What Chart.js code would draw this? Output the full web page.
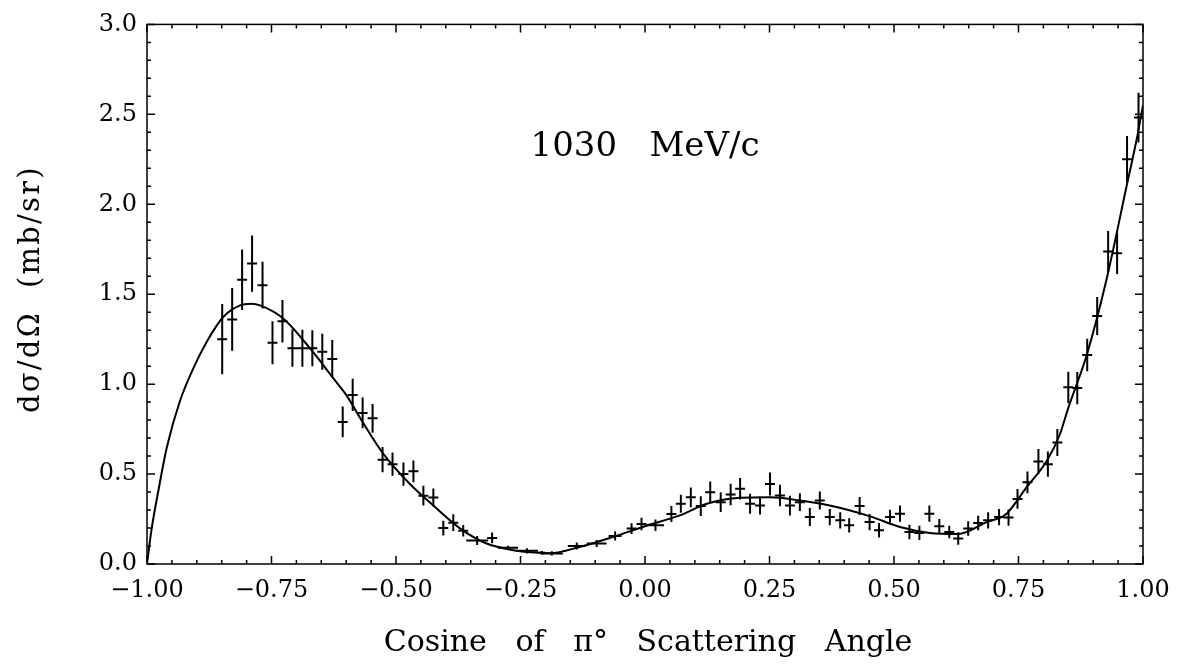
<!DOCTYPE html>
<html>
<head>
<meta charset="utf-8">
<title>1030 MeV/c</title>
<script src="https://cdn.jsdelivr.net/npm/chart.js@4.4.1/dist/chart.umd.min.js"></script>
<style>
body{margin:0;background:#fff}
#wrap{width:1182px;height:666px}
</style>
</head>
<body>
<div id="wrap"><canvas id="myChart" width="1182" height="666"></canvas></div>
<script>
// measured points: cosine of pi0 angle, dsigma/dOmega (mb/sr), errors
var cosVals = [-0.849,-0.829,-0.809,-0.789,-0.768,-0.748,-0.728,-0.708,-0.688,-0.668,-0.648,-0.628,-0.607,-0.587,-0.567,-0.547,-0.527,-0.507,-0.485,-0.465,-0.445,-0.425,-0.405,-0.385,-0.365,-0.337,-0.307,-0.275,-0.237,-0.207,-0.187,-0.137,-0.097,-0.060,-0.027,-0.007,0.021,0.053,0.072,0.092,0.112,0.131,0.152,0.172,0.191,0.211,0.231,0.251,0.271,0.291,0.311,0.331,0.351,0.371,0.392,0.410,0.431,0.451,0.470,0.492,0.512,0.531,0.551,0.571,0.591,0.611,0.629,0.649,0.669,0.689,0.711,0.730,0.748,0.768,0.790,0.809,0.828,0.850,0.868,0.888,0.908,0.930,0.948,0.968,0.991];
var sigVals = [1.25,1.36,1.58,1.67,1.55,1.23,1.35,1.20,1.20,1.20,1.18,1.14,0.79,0.94,0.84,0.81,0.58,0.555,0.50,0.515,0.38,0.37,0.20,0.23,0.185,0.13,0.145,0.09,0.073,0.062,0.059,0.10,0.114,0.156,0.197,0.222,0.215,0.278,0.335,0.371,0.322,0.399,0.344,0.386,0.418,0.335,0.325,0.445,0.381,0.325,0.344,0.261,0.353,0.261,0.243,0.215,0.323,0.233,0.188,0.261,0.280,0.178,0.173,0.280,0.210,0.178,0.142,0.197,0.228,0.243,0.261,0.258,0.362,0.454,0.570,0.555,0.675,0.982,0.978,1.162,1.379,1.737,1.728,2.250,2.482];
var sigErr = [0.195,0.175,0.168,0.156,0.13,0.12,0.118,0.104,0.103,0.10,0.10,0.105,0.085,0.09,0.085,0.08,0.07,0.065,0.065,0.06,0.055,0.05,0.041,0.046,0.032,0.025,0.03,0.012,0.015,0.01,0.012,0.02,0.02,0.025,0.03,0.035,0.032,0.045,0.05,0.055,0.055,0.06,0.055,0.06,0.06,0.055,0.05,0.064,0.06,0.055,0.05,0.05,0.05,0.045,0.045,0.04,0.05,0.045,0.04,0.04,0.045,0.04,0.04,0.045,0.04,0.035,0.035,0.04,0.04,0.045,0.045,0.045,0.055,0.06,0.07,0.07,0.075,0.087,0.09,0.09,0.106,0.115,0.115,0.129,0.138];
var cosErr = [0.01,0.01,0.01,0.01,0.01,0.01,0.01,0.01,0.01,0.01,0.01,0.01,0.01,0.01,0.01,0.01,0.01,0.01,0.01,0.01,0.01,0.01,0.01,0.01,0.01,0.022,0.01,0.02,0.022,0.008,0.022,0.018,0.02,0.013,0.01,0.01,0.017,0.01,0.01,0.01,0.01,0.01,0.01,0.01,0.01,0.01,0.01,0.01,0.01,0.01,0.01,0.01,0.01,0.01,0.01,0.01,0.01,0.01,0.01,0.01,0.01,0.01,0.01,0.01,0.01,0.01,0.01,0.01,0.01,0.01,0.01,0.01,0.01,0.01,0.01,0.01,0.01,0.01,0.01,0.01,0.01,0.01,0.01,0.01,0.009];

// fitted curve
var fitCos = [-1.0,-0.991,-0.977,-0.960,-0.934,-0.907,-0.880,-0.847,-0.813,-0.790,-0.773,-0.726,-0.670,-0.626,-0.600,-0.572,-0.525,-0.472,-0.425,-0.371,-0.318,-0.264,-0.211,-0.191,-0.131,-0.064,0.003,0.070,0.124,0.191,0.251,0.311,0.371,0.452,0.512,0.572,0.629,0.686,0.726,0.766,0.807,0.833,0.850,0.887,0.927,0.967,0.987,1.0];
var fitSig = [0.0,0.19,0.41,0.65,0.905,1.088,1.236,1.373,1.438,1.447,1.438,1.364,1.19,1.033,0.94,0.812,0.611,0.445,0.325,0.197,0.114,0.077,0.062,0.06,0.095,0.151,0.213,0.270,0.335,0.368,0.371,0.353,0.325,0.265,0.206,0.173,0.167,0.233,0.280,0.426,0.574,0.72,0.868,1.162,1.585,2.10,2.357,2.55];

var xTickLabels = ['\u22121.00','\u22120.75','\u22120.50','\u22120.25','0.00','0.25','0.50','0.75','1.00'];
var yTickLabels = ['0.0','0.5','1.0','1.5','2.0','2.5','3.0'];
var xTitle = 'Cosine   of   \u03c0\u00b0   Scattering   Angle';
var yTitle = 'd\u03c3/d\u03a9  (mb/sr)';
var beamLabel = '1030   MeV/c';
var beamPos = [0.0, 2.32];

var serif = "'DejaVu Serif', 'Liberation Serif', serif";

var points = [];
for (var i = 0; i < cosVals.length; i++) points.push({x: cosVals[i], y: sigVals[i]});
var curve = [];
for (var j = 0; j < fitCos.length; j++) curve.push({x: fitCos[j], y: fitSig[j]});

// error crosses for the measured points
var crosses = {
  id: 'crosses',
  afterDatasetsDraw: function(chart) {
    var ctx = chart.ctx, xs = chart.scales.x, ys = chart.scales.y;
    ctx.save();
    ctx.strokeStyle = '#000';
    ctx.lineWidth = 2;
    ctx.beginPath();
    for (var i = 0; i < cosVals.length; i++) {
      var px = xs.getPixelForValue(cosVals[i]);
      var py = ys.getPixelForValue(sigVals[i]);
      ctx.moveTo(xs.getPixelForValue(cosVals[i] - cosErr[i]), py);
      ctx.lineTo(xs.getPixelForValue(cosVals[i] + cosErr[i]), py);
      ctx.moveTo(px, ys.getPixelForValue(sigVals[i] - sigErr[i]));
      ctx.lineTo(px, ys.getPixelForValue(sigVals[i] + sigErr[i]));
    }
    ctx.stroke();
    ctx.restore();
  }
};

// spread text out to a given width (the old plot fonts are wide)
function spacedText(ctx, text, x, y, width) {
  ctx.letterSpacing = '0px';
  var w = ctx.measureText(text).width;
  var sp = Math.max(0, (width - w) / text.length);
  ctx.letterSpacing = sp.toFixed(2) + 'px';
  ctx.fillText(text, x + sp / 2, y);
  ctx.letterSpacing = '0px';
}

// box frame with inward ticks on all sides, axis titles and the beam label
var frame = {
  id: 'frame',
  afterDraw: function(chart) {
    var a = chart.chartArea, ctx = chart.ctx, xs = chart.scales.x, ys = chart.scales.y;
    ctx.save();
    ctx.strokeStyle = '#000';
    ctx.lineWidth = 1.5;
    ctx.strokeRect(a.left, a.top, a.right - a.left, a.bottom - a.top);
    ctx.beginPath();
    for (var k = 0; k <= 40; k++) {
      var px = xs.getPixelForValue(-1 + k * 0.05);
      var len = k % 5 == 0 ? 8 : 4;
      ctx.moveTo(px, a.bottom); ctx.lineTo(px, a.bottom - len);
      ctx.moveTo(px, a.top); ctx.lineTo(px, a.top + len);
    }
    for (var m = 0; m <= 30; m++) {
      var py = ys.getPixelForValue(m * 0.1);
      var ln = m % 5 == 0 ? 8 : 4;
      ctx.moveTo(a.left, py); ctx.lineTo(a.left + ln, py);
      ctx.moveTo(a.right, py); ctx.lineTo(a.right - ln, py);
    }
    ctx.stroke();

    ctx.fillStyle = '#000';
    ctx.textAlign = 'center';
    ctx.textBaseline = 'middle';
    ctx.font = '34px ' + serif;
    ctx.fillText(beamLabel, xs.getPixelForValue(beamPos[0]), ys.getPixelForValue(beamPos[1]));

    ctx.font = '30px ' + serif;
    ctx.fillText(xTitle, (a.left + a.right) / 2 + 3, 643);

    ctx.translate(31, (a.top + a.bottom) / 2 - 4);
    ctx.rotate(-Math.PI / 2);
    ctx.font = '29px ' + serif;
    spacedText(ctx, yTitle, 0, 0, 248);
    ctx.restore();
  }
};

new Chart('myChart', {
  type: 'scatter',
  data: {
    datasets: [{
      type: 'line',
      data: curve,
      borderColor: '#000',
      borderWidth: 2,
      pointRadius: 0,
      fill: false,
      cubicInterpolationMode: 'monotone'
    }, {
      data: points,
      pointRadius: 0,
      borderColor: '#000',
      backgroundColor: '#000'
    }]
  },
  options: {
    responsive: false,
    animation: false,
    devicePixelRatio: 1,
    layout: {padding: {top: 20, right: 39, left: 0, bottom: 0}},
    plugins: {legend: {display: false}, tooltip: {enabled: false}},
    scales: {
      x: {
        type: 'linear', min: -1, max: 1,
        grid: {display: false, drawTicks: false},
        border: {display: false},
        ticks: {
          stepSize: 0.25, padding: 12, color: '#000', maxRotation: 0,
          font: {family: serif, size: 24},
          callback: function(v, i) { return xTickLabels[i]; }
        },
        afterFit: function(s) { s.height = 102; }
      },
      y: {
        type: 'linear', min: 0, max: 3,
        grid: {display: false, drawTicks: false},
        border: {display: false},
        ticks: {
          stepSize: 0.5, padding: 10, color: '#000',
          font: {family: serif, size: 24},
          callback: function(v, i) { return yTickLabels[i]; }
        },
        afterFit: function(s) { s.width = 147; }
      }
    }
  },
  plugins: [crosses, frame]
});
</script>
</body>
</html>
